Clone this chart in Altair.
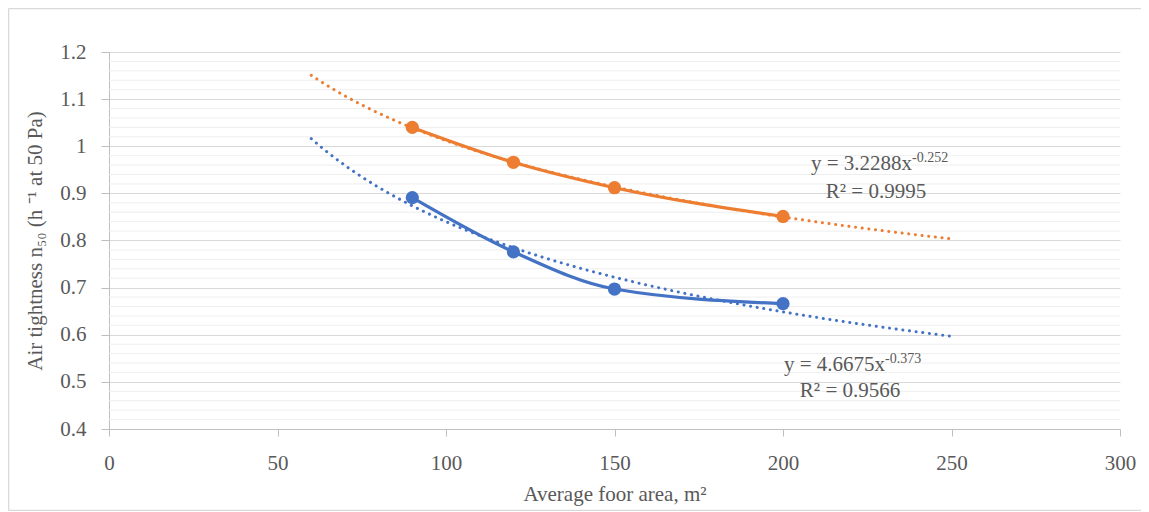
import altair as alt
import pandas as pd

# ---- data ----
areas = [90, 120, 150, 200]
orange_vals = [1.040, 0.966, 0.912, 0.851]
blue_vals = [0.891, 0.776, 0.697, 0.666]
series_names = ["Series A", "Series B"]
series_colors = ["#ED7D31", "#4472C4"]

x_ticks = [0, 50, 100, 150, 200, 250, 300]
y_ticks = [0.4, 0.5, 0.6, 0.7, 0.8, 0.9, 1.0, 1.1, 1.2]
y_minor = [0.42, 0.44, 0.46, 0.48, 0.52, 0.54, 0.56, 0.58, 0.62, 0.64, 0.66, 0.68,
           0.72, 0.74, 0.76, 0.78, 0.82, 0.84, 0.86, 0.88, 0.92, 0.94, 0.96, 0.98,
           1.02, 1.04, 1.06, 1.08, 1.12, 1.14, 1.16, 1.18]
trend_extent = [60, 250]

eq_main = ["y = 3.2288x", "y = 4.6675x"]
eq_sup = ["-0.252", "-0.373"]
eq_r2 = ["R² = 0.9995", "R² = 0.9566"]

# annotation anchors (data coords)
eq_anchor_x = [238.3, 230.3]
eq_anchor_y = [0.9496, 0.523]
r2_center_x = [227.6, 219.9]
r2_y = [0.890, 0.468]

FONT = "Liberation Serif"
TXT = "#595959"
GRID = "#D9D9D9"
MINOR = "#EEEEEE"
AX = "#BFBFBF"

df = pd.DataFrame({
    "area": areas * 2,
    "value": orange_vals + blue_vals,
    "series": [series_names[0]] * len(areas) + [series_names[1]] * len(areas),
})
ann = pd.DataFrame({
    "series": series_names,
    "main": eq_main, "sup": eq_sup, "r2": eq_r2,
    "ax": eq_anchor_x, "ay": eq_anchor_y, "rx": r2_center_x, "ry": r2_y,
})
minor_df = pd.DataFrame({"v": y_minor})

xscale = alt.Scale(domain=[0, 300], nice=False, zero=False)
yscale = alt.Scale(domain=[0.4, 1.2], nice=False, zero=False)
color = alt.Color("series:N", scale=alt.Scale(domain=series_names, range=series_colors), legend=None)

xaxis = alt.Axis(values=x_ticks, grid=False, tickSize=7, labelPadding=16, labelFlush=False,
                 title="Average foor area, m²", titleX=505.5, titleY=65,
                 titleBaseline="middle", titleAlign="center")
yaxis = alt.Axis(values=y_ticks, format=".1~f", grid=True, gridColor=GRID, labelFlush=False,
                 tickSize=8, labelPadding=15, title="Air tightness n₅₀ (h ⁻¹ at 50 Pa)",
                 titleX=-74, titleY=188.5, titleAngle=270, titleBaseline="middle",
                 titleAlign="center")

X = alt.X("area:Q", scale=xscale, axis=xaxis)
Y = alt.Y("value:Q", scale=yscale, axis=yaxis)

minor = alt.Chart(minor_df).mark_rule(color=MINOR, strokeWidth=1).encode(
    y=alt.Y("v:Q", scale=yscale, axis=yaxis))

trend = alt.Chart(df).transform_regression(
    "area", "value", groupby=["series"], method="pow", extent=trend_extent
).mark_line(strokeWidth=3, strokeDash=[0.1, 6.6], strokeCap="round").encode(
    x=X, y=Y, color=color)

lines = alt.Chart(df).mark_line(strokeWidth=3.2, interpolate="monotone").encode(
    x=X, y=Y, color=color)
points = alt.Chart(df).mark_circle(size=175, opacity=1).encode(x=X, y=Y, color=color)

t_main = alt.Chart(ann).mark_text(font=FONT, fontSize=21, color=TXT, align="right",
                                  baseline="alphabetic").encode(
    x=alt.X("ax:Q", scale=xscale), y=alt.Y("ay:Q", scale=yscale), text="main:N")
t_sup = alt.Chart(ann).mark_text(font=FONT, fontSize=14, color=TXT, align="left",
                                 baseline="alphabetic", dy=-8).encode(
    x=alt.X("ax:Q", scale=xscale), y=alt.Y("ay:Q", scale=yscale), text="sup:N")
t_r2 = alt.Chart(ann).mark_text(font=FONT, fontSize=21, color=TXT, align="center",
                                baseline="alphabetic").encode(
    x=alt.X("rx:Q", scale=xscale), y=alt.Y("ry:Q", scale=yscale), text="r2:N")

border_l = alt.Chart(minor_df.head(1)).mark_rule(color=GRID, strokeWidth=1.5).encode(
    x=alt.value(-100.5), y=alt.value(-43.5), y2=alt.value(458.5))
border_t = alt.Chart(minor_df.head(1)).mark_rule(color=GRID, strokeWidth=1.5).encode(
    x=alt.value(-100.5), x2=alt.value(1040), y=alt.value(-43.5))
border_b = alt.Chart(minor_df.head(1)).mark_rule(color=GRID, strokeWidth=1.5).encode(
    x=alt.value(-100.5), x2=alt.value(1040), y=alt.value(458.5))

chart = alt.layer(minor, trend, lines, points, t_main, t_sup, t_r2,
                  border_l, border_t, border_b).properties(
    width=1011, height=377,
    padding={"left": 101, "top": 44, "right": 21, "bottom": 82},
    autosize=alt.AutoSizeParams(type="none"),
).configure_view(strokeWidth=0).configure_axis(
    labelFont=FONT, labelFontSize=21, labelColor=TXT,
    titleFont=FONT, titleFontSize=21, titleFontWeight="normal", titleColor=TXT,
    domainColor=AX, tickColor=AX,
).configure_text(font=FONT)

chart.save("out.html", embed_options={"renderer": "svg", "actions": False})
